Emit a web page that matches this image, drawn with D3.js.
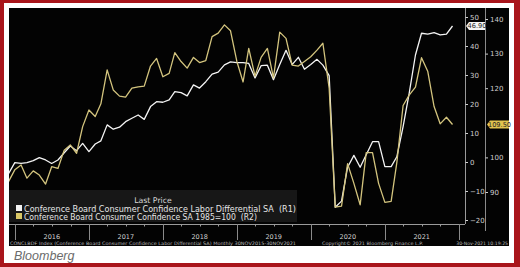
<!DOCTYPE html>
<html>
<head>
<meta charset="utf-8">
<script src="https://cdn.jsdelivr.net/npm/d3@7"></script>
<style>
  body { margin: 0; background: #fff; }
  svg { display: block; }
</style>
</head>
<body>
<svg id="chart"></svg>
<script>
// monthly observations, Nov 2015 .. Nov 2021
const months = [
  "2015-11", "2015-12",
  "2016-01", "2016-02", "2016-03", "2016-04", "2016-05", "2016-06", "2016-07", "2016-08", "2016-09", "2016-10", "2016-11", "2016-12",
  "2017-01", "2017-02", "2017-03", "2017-04", "2017-05", "2017-06", "2017-07", "2017-08", "2017-09", "2017-10", "2017-11", "2017-12",
  "2018-01", "2018-02", "2018-03", "2018-04", "2018-05", "2018-06", "2018-07", "2018-08", "2018-09", "2018-10", "2018-11", "2018-12",
  "2019-01", "2019-02", "2019-03", "2019-04", "2019-05", "2019-06", "2019-07", "2019-08", "2019-09", "2019-10", "2019-11", "2019-12",
  "2020-01", "2020-02", "2020-03", "2020-04", "2020-05", "2020-06", "2020-07", "2020-08", "2020-09", "2020-10", "2020-11", "2020-12",
  "2021-01", "2021-02", "2021-03", "2021-04", "2021-05", "2021-06", "2021-07", "2021-08", "2021-09", "2021-10", "2021-11"
];

// Labor Differential SA (R1)
const laborDiff = [
  -4.0, -0.2,
  -0.5, -0.2, 0.5, 1.5, 0.7, -0.5, 0.7, 3.2, 5.5, 3.9, 6.4, 3.6,
  6.2, 7.3, 12.8, 11.3, 12.0, 13.9, 15.1, 16.2, 14.7, 19.1, 20.8, 20.6,
  21.4, 24.3, 23.9, 22.8, 26.6, 25.5, 27.7, 30.3, 31.0, 33.5, 34.5, 34.3,
  34.3, 34.0, 29.0, 33.2, 33.4, 28.4, 33.6, 38.5, 33.6, 36.1, 32.0, 33.6,
  35.4, 33.4, 29.8, -15.6, -13.5, -1.8, 2.3, -1.8, 2.5, 7.0, 7.0, -1.6,
  -1.6, 1.8, 12.2, 23.7, 36.9, 44.4, 44.1, 44.6, 43.8, 44.1, 46.9
];

// Consumer Confidence SA 1985=100 (R2)
const confidence = [
  93.0, 96.4,
  97.8, 94.0, 96.1, 94.9, 92.3, 97.3, 96.8, 102.1, 103.6, 101.2, 108.9, 113.7,
  111.8, 115.5, 125.3, 119.5, 117.7, 117.4, 120.0, 120.4, 120.6, 126.4, 128.6, 123.3,
  124.3, 130.3, 127.7, 125.8, 128.9, 127.4, 128.0, 134.9, 135.9, 138.3, 136.6, 127.8,
  121.8, 131.5, 123.5, 128.9, 131.5, 123.0, 136.2, 134.4, 126.7, 126.4, 127.7, 129.1,
  131.0, 133.0, 120.0, 85.6, 85.9, 98.2, 92.5, 86.3, 101.4, 101.4, 92.5, 87.0,
  87.3, 98.5, 115.0, 118.0, 120.3, 128.8, 124.8, 114.7, 109.7, 111.6, 109.5
];

const r1Ticks = [-20, -10, 0, 10, 20, 30, 40, 50];
// 110 sits under the last-price tag, so it is not labelled
const r2Ticks = [90, 100, 120, 130, 140];
const years = ["2016", "2017", "2018", "2019", "2020", "2021"];

const W = 520, H = 267;
const panel = { left: 9, top: 8, right: 509, bottom: 246 };
const plot = { left: 9, top: 8, right: 465, bottom: 224 };

const svg = d3.select("#chart").attr("width", W).attr("height", H);

// frame
svg.append("rect").attr("x", 0).attr("y", 0).attr("width", W).attr("height", H).attr("fill", "#a9151b");
svg.append("rect").attr("x", 4).attr("y", 3).attr("width", W - 10).attr("height", H - 7).attr("fill", "#fff");
svg.append("rect")
  .attr("x", panel.left).attr("y", panel.top)
  .attr("width", panel.right - panel.left).attr("height", panel.bottom - panel.top)
  .attr("fill", "#030303");

svg.append("text")
  .attr("x", 14).attr("y", 260)
  .attr("font-family", "Arial, 'Liberation Sans', sans-serif")
  .attr("font-style", "italic")
  .attr("font-size", 12.5)
  .attr("fill", "#6b6b6b")
  .text("Bloomberg");

const parse = d3.timeParse("%Y-%m");
// points sit at month end
const dates = months.map(m => d3.timeDay.offset(d3.timeMonth.offset(parse(m), 1), -1));

const x = d3.scaleTime()
  .domain([new Date(2016, 0, 1), new Date(2022, 0, 1)])
  .range([15, 459]);
const y1 = d3.scaleLinear().domain([-20, 50]).range([220, 17]);
const y2 = d3.scaleLinear().domain([90, 140]).range([192, 19]);

svg.append("clipPath").attr("id", "clip")
  .append("rect")
  .attr("x", plot.left).attr("y", plot.top)
  .attr("width", plot.right - plot.left).attr("height", plot.bottom - plot.top);

// legend box
const leg = svg.append("g");
leg.append("rect").attr("x", 9).attr("y", 190).attr("width", 288).attr("height", 32).attr("fill", "#171717");
leg.append("text")
  .attr("x", 153).attr("y", 203)
  .attr("text-anchor", "middle")
  .attr("font-family", "'DejaVu Sans', sans-serif")
  .attr("font-size", 7.8)
  .attr("fill", "#d8d8d8")
  .text("Last Price");
const legItems = [
  { label: "Conference Board Consumer Confidence Labor Differential SA\u00a0\u00a0(R1)", color: "#f2f2f2", len: 272 },
  { label: "Conference Board Consumer Confidence SA 1985=100\u00a0\u00a0(R2)", color: "#d9c765", len: 233 }
];
legItems.forEach((d, i) => {
  leg.append("rect").attr("x", 16).attr("y", 205 + i * 8).attr("width", 6).attr("height", 6).attr("fill", d.color);
  leg.append("text")
    .attr("x", 24).attr("y", 211.5 + i * 8)
    .attr("font-family", "'DejaVu Sans', sans-serif")
    .attr("font-size", 8)
    .attr("textLength", d.len)
    .attr("lengthAdjust", "spacingAndGlyphs")
    .attr("fill", "#e6e6e6")
    .text(d.label);
});

// lines
const lineG = svg.append("g").attr("clip-path", "url(#clip)");
const line1 = d3.line().x((d, i) => x(dates[i])).y(d => y1(d));
const line2 = d3.line().x((d, i) => x(dates[i])).y(d => y2(d));

lineG.append("path").datum(laborDiff)
  .attr("d", line1).attr("fill", "none")
  .attr("stroke", "#f4f4f4").attr("stroke-width", 1.3).attr("stroke-linejoin", "round");
lineG.append("path").datum(confidence)
  .attr("d", line2).attr("fill", "none")
  .attr("stroke", "#d3c47e").attr("stroke-width", 1.3).attr("stroke-linejoin", "round");

// plot frame
svg.append("line").attr("x1", plot.left).attr("x2", plot.right).attr("y1", plot.bottom + 0.5).attr("y2", plot.bottom + 0.5)
  .attr("stroke", "#9a9a9a").attr("stroke-width", 1);
svg.append("line").attr("x1", plot.right + 0.5).attr("x2", plot.right + 0.5).attr("y1", plot.top).attr("y2", plot.bottom)
  .attr("stroke", "#9a9a9a").attr("stroke-width", 1);
svg.append("line").attr("x1", 485.5).attr("x2", 485.5).attr("y1", plot.top).attr("y2", 231)
  .attr("stroke", "#8a8a8a").attr("stroke-width", 1);

// right axes
const axisR1 = svg.append("g").attr("transform", `translate(${plot.right + 0.5},0)`)
  .call(d3.axisRight(y1).tickValues(r1Ticks).tickSize(2.5).tickPadding(2));
const axisR2 = svg.append("g").attr("transform", `translate(485.5,0)`)
  .call(d3.axisRight(y2).tickValues(r2Ticks).tickSize(2.5).tickPadding(2));
[axisR1, axisR2].forEach(a => {
  a.select(".domain").remove();
  a.selectAll("line").attr("stroke", "#cfcfcf");
  a.selectAll("text").attr("fill", "#d0d0d0").attr("font-size", 7)
    .attr("font-family", "'DejaVu Sans', sans-serif");
});

// last value tags
const tags = [
  { v: laborDiff[laborDiff.length - 1], scale: y1, x: 466, w: 19, bg: "#f4f4f4" },
  { v: confidence[confidence.length - 1], scale: y2, x: 487, w: 22, bg: "#e2c44f" }
];
tags.forEach(t => {
  const yy = t.scale(t.v);
  svg.append("path")
    .attr("d", `M${t.x},${yy} L${t.x + 3},${yy - 4} L${t.x + t.w},${yy - 4} L${t.x + t.w},${yy + 4} L${t.x + 3},${yy + 4} Z`)
    .attr("fill", t.bg);
  svg.append("text")
    .attr("x", t.x + 3 + (t.w - 3) / 2).attr("y", yy + 2.5)
    .attr("text-anchor", "middle")
    .attr("font-family", "'DejaVu Sans', sans-serif")
    .attr("font-size", 6.6)
    .attr("fill", "#222")
    .text(t.v.toFixed(2));
});

// bottom axis: year separators, quarterly ticks, year labels
const yearStarts = d3.range(2016, 2023).map(yr => new Date(yr, 0, 1));
svg.append("g").selectAll("line").data(yearStarts).join("line")
  .attr("x1", d => Math.round(x(d)) + 0.5).attr("x2", d => Math.round(x(d)) + 0.5)
  .attr("y1", plot.bottom).attr("y2", 240)
  .attr("stroke", "#8a8a8a");
const quarters = d3.timeMonth.every(3).range(new Date(2016, 0, 1), new Date(2022, 0, 1))
  .filter(d => d.getMonth() !== 0);
svg.append("g").selectAll("line").data(quarters).join("line")
  .attr("x1", d => Math.round(x(d)) + 0.5).attr("x2", d => Math.round(x(d)) + 0.5)
  .attr("y1", plot.bottom).attr("y2", plot.bottom + 2.5)
  .attr("stroke", "#9a9a9a");
svg.append("g").selectAll("text").data(years).join("text")
  .attr("x", d => x(new Date(+d, 6, 1)))
  .attr("y", 238.5)
  .attr("text-anchor", "middle")
  .attr("font-family", "'DejaVu Sans', sans-serif")
  .attr("font-size", 6.5)
  .attr("fill", "#cfcfcf")
  .text(d => d);

// footer
const foot = svg.append("g")
  .attr("font-family", "'DejaVu Sans', sans-serif")
  .attr("font-size", 4.6)
  .attr("fill", "#bdbdbd");
foot.append("text").attr("x", 10).attr("y", 244.5)
  .attr("textLength", 286).attr("lengthAdjust", "spacingAndGlyphs")
  .text("CONCLBDF Index (Conference Board Consumer Confidence Labor Differential SA)  Monthly 30NOV2015-30NOV2021");
foot.append("text").attr("x", 322).attr("y", 244.5)
  .attr("textLength", 101).attr("lengthAdjust", "spacingAndGlyphs")
  .text("Copyright\u00a9 2021 Bloomberg Finance L.P.");
foot.append("text").attr("x", 508).attr("y", 244.5)
  .attr("text-anchor", "end")
  .text("30-Nov-2021 10:19:25");
</script>
</body>
</html>
